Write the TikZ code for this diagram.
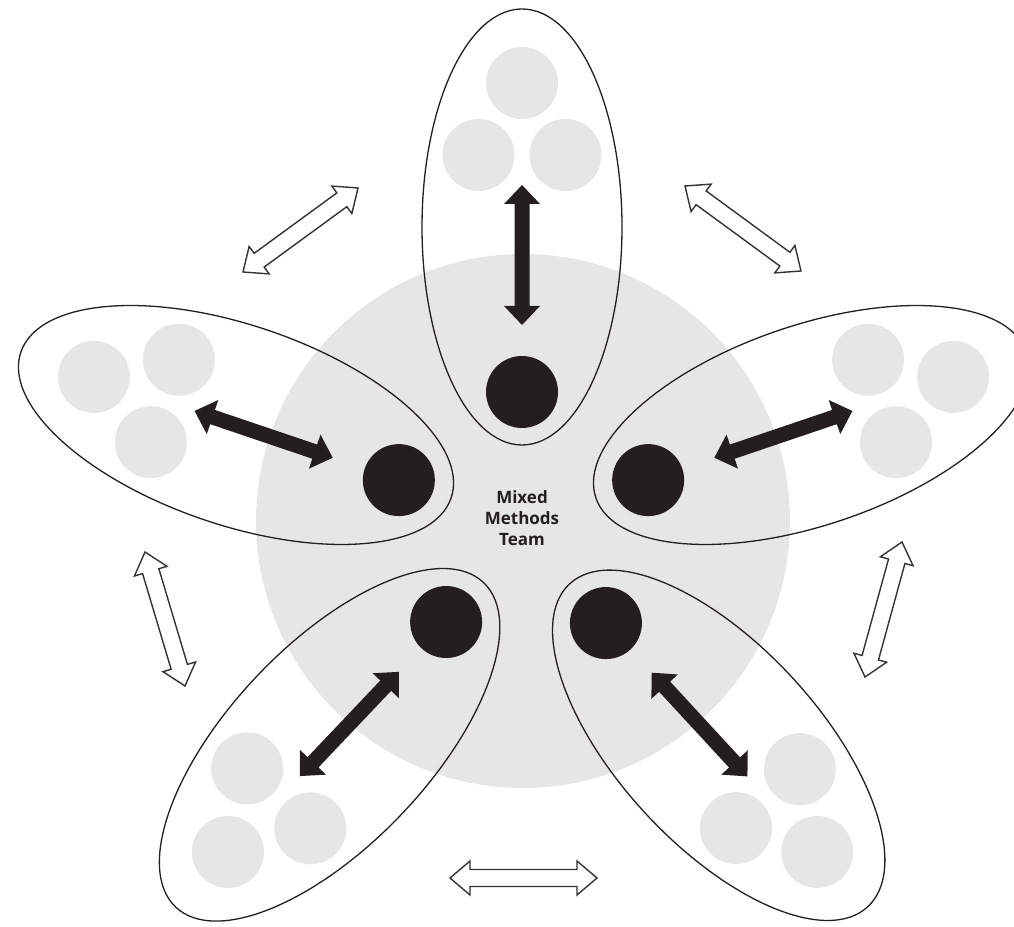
\documentclass[tikz,border=0pt]{standalone}
\usepackage{fontspec}
\setmainfont{Open Sans}
\usetikzlibrary{calc}
\definecolor{ink}{HTML}{231F20}
\definecolor{lite}{HTML}{E6E6E6}
\definecolor{outl}{HTML}{333333}
\tikzset{
  petalline/.style={draw=ink, line width=1.3pt},
  member/.style={circle, fill=lite, minimum size=72pt, inner sep=0pt},
  lead/.style={circle, fill=ink, minimum size=72pt, inner sep=0pt},
  solidarrow/.style={fill=ink},
  openarrow/.style={draw=outl, line width=1.4pt, fill=white, line join=miter},
  hub/.style={circle, fill=lite, minimum size=534pt, inner sep=0pt},
  teamlabel/.style={font=\bfseries\fontsize{17}{21}\selectfont, align=center, text=ink},
}
% block double arrow between two named coordinates
\newcommand\barrow[7]{%
  \path[#1] (#2) -- ($(#2)!#4!#5:(#3)$) -- ($(#2)!#6!#7:(#3)$)
    -- ($(#3)!#6!-#7:(#2)$) -- ($(#3)!#4!-#5:(#2)$) -- (#3)
    -- ($(#3)!#4!#5:(#2)$) -- ($(#3)!#6!#7:(#2)$)
    -- ($(#2)!#6!-#7:(#3)$) -- ($(#2)!#4!-#5:(#3)$) -- cycle;}
\newcommand\solidbarrow[2]{\barrow{solidarrow}{#1}{#2}{26.17pt}{43.45}{20.43pt}{21.54}}
\newcommand\openbarrow[2]{\barrow{openarrow}{#1}{#2}{26.25pt}{40.36}{21.73pt}{23.03}}
% petal: name, cx, cy, angle, length scale
\newcommand\petal[5]{%
  \begin{scope}[shift={(#2,#3)}, rotate=#4, xscale=#5]
    \node[member] (#1ga) at (144,0) {};
    \node[member] (#1gb) at (72,43.5) {};
    \node[member] (#1gc) at (72,-43.5) {};
    \node[lead] (#1lead) at (-165,0) {};
    \coordinate (#1out) at (42,0);
    \coordinate (#1in) at (-98,0);
    \draw[petalline] (0,0) ellipse [x radius=218, y radius=100];
  \end{scope}
  \solidbarrow{#1in}{#1out}}
\begin{document}
\begin{tikzpicture}[x=1pt,y=1pt]
\useasboundingbox (0,0) rectangle (1014,926);
\clip (0,0) rectangle (1014,926);
\node[hub] (team) at (523,405) {};
\petal{top}{522}{699}{90}{1.0}
\petal{left}{236}{501}{161.3}{1.042}
\petal{right}{811}{501}{18.7}{1.042}
\petal{bl}{329.6}{181.2}{226.5}{1.026}
\petal{br}{718.7}{180.7}{312.7}{1.008}
\node[teamlabel] (label) at (522,408) {Mixed\\Methods\\Team};
% hollow arrows between the groups
\coordinate (ula) at (358,738); \coordinate (ulb) at (243,654);
\coordinate (ura) at (685,740); \coordinate (urb) at (801,655);
\coordinate (ra) at (902,384);  \coordinate (rb) at (865,249);
\coordinate (la) at (145,374);  \coordinate (lb) at (185,240);
\coordinate (ba) at (450,48);   \coordinate (bb) at (597,48);
\openbarrow{ula}{ulb}
\openbarrow{ura}{urb}
\openbarrow{ra}{rb}
\openbarrow{la}{lb}
\openbarrow{ba}{bb}
\end{tikzpicture}
\end{document}
